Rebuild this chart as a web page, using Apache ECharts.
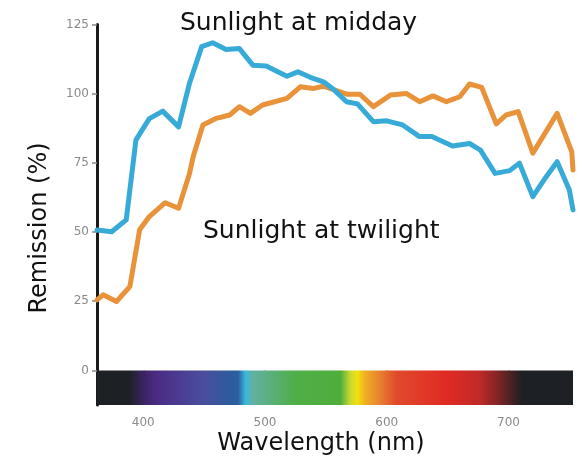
<!DOCTYPE html>
<html>
<head>
<meta charset="utf-8">
<style>
  html, body { margin: 0; padding: 0; background: #fff; }
  #chart { width: 582px; height: 460px; }
</style>
<script src="https://cdn.jsdelivr.net/npm/echarts@6/dist/echarts.min.js"></script>
</head>
<body>
<div id="chart"></div>
<script>
// Remission spectra under two illuminants, [wavelength nm, remission %]
const middaySeries = [
  [362, 50.7], [374, 50.1], [386, 54.4], [394, 83.3], [405, 91.0], [416, 93.7],
  [429, 88.0], [438, 103.8], [448, 117.0], [457, 118.4], [468, 116.0], [479, 116.3],
  [490, 110.3], [501, 110.0], [518, 106.3], [527, 107.9], [539, 105.6], [548, 104.3],
  [557, 101.3], [567, 97.1], [576, 96.3], [589, 89.9], [600, 90.2], [613, 88.7],
  [627, 84.5], [637, 84.5], [654, 81.1], [668, 82.0], [677, 79.6], [689, 71.2],
  [701, 72.2], [709, 74.9], [720, 62.8], [731, 70.0], [740, 75.4], [750, 65.2],
  [753, 58.0]
];
const twilightSeries = [
  [362, 25.5], [367, 27.3], [378, 24.9], [389, 30.3], [397, 50.8], [405, 55.6],
  [418, 60.6], [429, 58.6], [438, 71.2], [441, 77.2], [449, 88.7], [460, 91.1],
  [471, 92.3], [479, 95.3], [488, 92.9], [498, 95.9], [518, 98.3], [529, 102.5],
  [540, 101.9], [548, 102.7], [567, 99.8], [578, 99.8], [589, 95.3], [603, 99.5],
  [616, 100.1], [627, 97.1], [638, 99.2], [649, 97.1], [660, 98.9], [668, 103.5],
  [678, 102.3], [690, 89.1], [698, 92.3], [708, 93.5], [720, 78.5], [740, 92.9],
  [752, 79.0], [753, 72.4]
];

// Axis ranges and tick values
const wavelengthRange = [362, 753];
const remissionRange = [-12.5, 125];
const wavelengthTicks = [400, 500, 600, 700];
const remissionTicks = [0, 25, 50, 75, 100, 125];

// Visible spectrum strip below the zero line: [wavelength, colour]
const spectrumStops = [
  [362, '#1d2024'], [388, '#1d2024'], [400, '#3a2460'], [410, '#4a2a82'],
  [430, '#4b3d92'], [450, '#4a4e9c'], [470, '#2f5b9c'], [478, '#2c5fa0'],
  [484, '#3ab8dc'], [490, '#62b0a0'], [505, '#5ab07a'], [525, '#50ae48'],
  [562, '#4eae3a'], [570, '#c8d830'], [576, '#f2e010'], [582, '#f0b020'],
  [592, '#e88a30'], [608, '#e04a2c'], [650, '#e02a24'], [676, '#c02a28'],
  [693, '#7a2424'], [705, '#3a2024'], [712, '#1d2024'], [753, '#1d2024']
];
const spectrumBand = [[wavelengthRange[0], wavelengthRange[1], 0, remissionRange[0]]];

const chart = echarts.init(document.getElementById('chart'), null, { renderer: 'canvas' });

const span = wavelengthRange[1] - wavelengthRange[0];
const gradientStops = spectrumStops.map(([w, c]) => ({
  offset: (w - wavelengthRange[0]) / span, color: c
}));

const textFont = '"DejaVu Sans", "Liberation Sans", sans-serif';
const tickLabel = { color: '#8a8a8a', fontSize: 12, fontFamily: textFont };

chart.setOption({
  animation: false,
  backgroundColor: '#ffffff',
  grid: { left: 97, right: 9, top: 24.5, bottom: 55 },
  xAxis: {
    type: 'value',
    min: wavelengthRange[0],
    max: wavelengthRange[1],
    axisLine: { show: false },
    axisTick: {
      show: true, length: 7, customValues: wavelengthTicks,
      lineStyle: { color: '#8a8a8a', width: 1.5 }
    },
    axisLabel: Object.assign({ margin: 12, customValues: wavelengthTicks }, tickLabel),
    splitLine: { show: false }
  },
  yAxis: {
    type: 'value',
    min: remissionRange[0],
    max: remissionRange[1],
    axisLine: { show: true, lineStyle: { color: '#1a1a1a', width: 3 } },
    axisTick: {
      show: true, length: 5, customValues: remissionTicks,
      lineStyle: { color: '#8a8a8a', width: 1.5 }
    },
    axisLabel: Object.assign({ margin: 8, customValues: remissionTicks }, tickLabel),
    splitLine: { show: false }
  },
  series: [
    {
      type: 'custom',
      silent: true,
      z: 1,
      data: spectrumBand,
      renderItem: function (params, api) {
        const p0 = api.coord([api.value(0), api.value(2)]);
        const p1 = api.coord([api.value(1), api.value(3)]);
        return {
          type: 'rect',
          shape: { x: p0[0], y: p0[1], width: p1[0] - p0[0], height: p1[1] - p0[1] },
          style: { fill: new echarts.graphic.LinearGradient(0, 0, 1, 0, gradientStops) }
        };
      }
    },
    {
      name: 'Sunlight at twilight',
      type: 'line',
      data: twilightSeries,
      showSymbol: false,
      z: 3,
      lineStyle: { color: '#e8923a', width: 5, join: 'round', cap: 'round' }
    },
    {
      name: 'Sunlight at midday',
      type: 'line',
      data: middaySeries,
      showSymbol: false,
      z: 4,
      lineStyle: { color: '#38aad8', width: 5, join: 'round', cap: 'round' }
    }
  ],
  graphic: [
    {
      type: 'text', x: 180, y: 23,
      style: { text: 'Sunlight at midday', fill: '#111', font: '25px ' + textFont, textVerticalAlign: 'middle' }
    },
    {
      type: 'text', x: 203, y: 231,
      style: { text: 'Sunlight at twilight', fill: '#111', font: '25px ' + textFont, textVerticalAlign: 'middle' }
    },
    {
      type: 'text', x: 321, y: 444,
      style: { text: 'Wavelength (nm)', fill: '#111', font: '24px ' + textFont, textAlign: 'center', textVerticalAlign: 'middle' }
    },
    {
      type: 'text', x: 40, y: 228, rotation: Math.PI / 2,
      style: { text: 'Remission (%)', fill: '#111', font: '24px ' + textFont, textAlign: 'center', textVerticalAlign: 'middle' }
    }
  ]
});
</script>
</body>
</html>
